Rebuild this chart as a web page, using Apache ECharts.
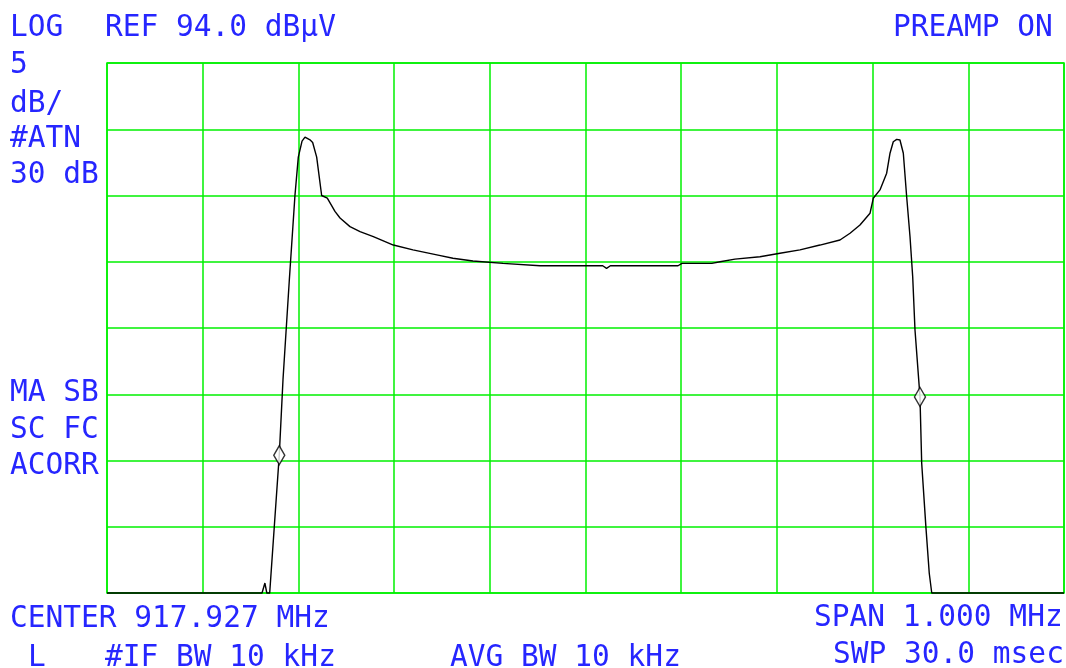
<!DOCTYPE html>
<html>
<head>
<meta charset="utf-8">
<script src="https://cdn.jsdelivr.net/npm/echarts@6/dist/echarts.min.js"></script>
<style>
  html, body { margin: 0; padding: 0; background: #fff; }
  #chart { width: 1066px; height: 668px; }
</style>
</head>
<body>
<div id="chart"></div>
<script>
// analyzer settings
const REF_LEVEL = 94.0   // dBuV, top of screen
const DB_PER_DIV = 5
const DIVS_Y = 8
const SPAN_KHZ = 1000

// trace: offset from center (kHz) and level (dBuV)
const traceFreq = [
  -500, -338, -337, -335, -333, -330, -325.2, -320.0, -316.1, -309.5,
  -303.6, -300.1, -296.2, -293.1, -287.9, -285.1, -280.9, -275.7, -269.8, -261.8,
  -256.5, -246.1, -235.6, -221.7, -200.8, -180.3, -154.1, -138.5, -117.6, -86.2,
  -47.5, 18, 22, 26, 96.7, 100.8, 132, 140.6, 156.2, 182.3,
  203.2, 224.1, 245, 265.9, 276.4, 286.8, 297.3, 300.7, 307.7, 314.7,
  318.2, 321.6, 325.2, 328.6, 332.1, 335.6, 339.1, 341.9, 344.3, 349.5,
  351.3, 355.8, 359.2, 361.8, 500,
]
const traceLevel = [
  54, 54, 54, 54.75, 54, 54, 59.0, 64.4, 70.1, 77.6,
  84.0, 86.9, 88.1, 88.4, 88.2, 88.0, 86.9, 84.0, 83.8, 82.8,
  82.3, 81.65, 81.27, 80.9, 80.26, 79.9, 79.5, 79.26, 79.06, 78.88,
  78.7, 78.7, 78.5, 78.7, 78.7, 78.88, 78.88, 79.0, 79.2, 79.38,
  79.64, 79.9, 80.26, 80.64, 81.15, 81.77, 82.66, 83.79, 84.42, 85.68,
  87.19, 88.06, 88.24, 88.19, 87.19, 83.91, 80.89, 77.87, 73.85, 68.82,
  63.79, 58.88, 55.49, 54, 54,
]

// the two diamond markers
const markerFreq = [-320.0, 349.5]
const markerLevel = [64.4, 68.8]

// annotation texts [text, x, y]
const labels = [
  ['LOG', 12, 25],
  ['REF 94.0 dBµV', 107, 25],
  ['PREAMP ON', 895, 25],
  ['5', 12, 62],
  ['dB/', 12, 101],
  ['#ATN', 12, 136],
  ['30 dB', 12, 172],
  ['MA SB', 12, 390],
  ['SC FC', 12, 427],
  ['ACORR', 12, 463],
  ['CENTER 917.927 MHz', 12, 616],
  ['L', 30, 655],
  ['#IF BW 10 kHz', 107, 655],
  ['AVG BW 10 kHz', 452, 655],
  ['SPAN 1.000 MHz', 816, 615],
  ['SWP 30.0 msec', 835, 652],
]

const GREEN = '#00f000'
const BLUE = '#2626ff'

const chart = echarts.init(document.getElementById('chart'), null, { renderer: 'canvas' })

const rel = (v) => v - REF_LEVEL

const option = {
  animation: false,
  backgroundColor: '#fff',
  grid: {
    left: 107, top: 63, width: 957, height: 530,
    show: true, borderColor: GREEN, borderWidth: 1.5,
  },
  xAxis: {
    type: 'value',
    min: -SPAN_KHZ / 2, max: SPAN_KHZ / 2, interval: SPAN_KHZ / 10,
    axisLine: { show: false }, axisTick: { show: false }, axisLabel: { show: false },
    splitLine: { show: true, lineStyle: { color: GREEN, width: 1.5 } },
  },
  yAxis: {
    type: 'value',
    min: -DB_PER_DIV * DIVS_Y, max: 0, interval: DB_PER_DIV,
    axisLine: { show: false }, axisTick: { show: false }, axisLabel: { show: false },
    splitLine: { show: true, lineStyle: { color: GREEN, width: 1.5 } },
  },
  series: [
    {
      type: 'line',
      data: traceFreq.map((f, i) => [f, rel(traceLevel[i])]),
      showSymbol: false,
      clip: false,
      lineStyle: { color: '#000', width: 1.4 },
      z: 3,
    },
    {
      type: 'scatter',
      data: markerFreq.map((f, i) => [f, rel(markerLevel[i])]),
      symbol: 'diamond',
      symbolSize: [11, 19],
      itemStyle: { color: '#fff', borderColor: '#000', borderWidth: 1.5 },
      z: 4,
    },
  ],
  graphic: labels.map(([text, x, y]) => ({
    type: 'text',
    x: x - 2,
    y: y + 3,
    style: {
      text: text,
      font: '29.5px "DejaVu Sans Mono"',
      fill: BLUE,
      verticalAlign: 'middle',
    },
  })),
}

chart.setOption(option)
</script>
</body>
</html>
